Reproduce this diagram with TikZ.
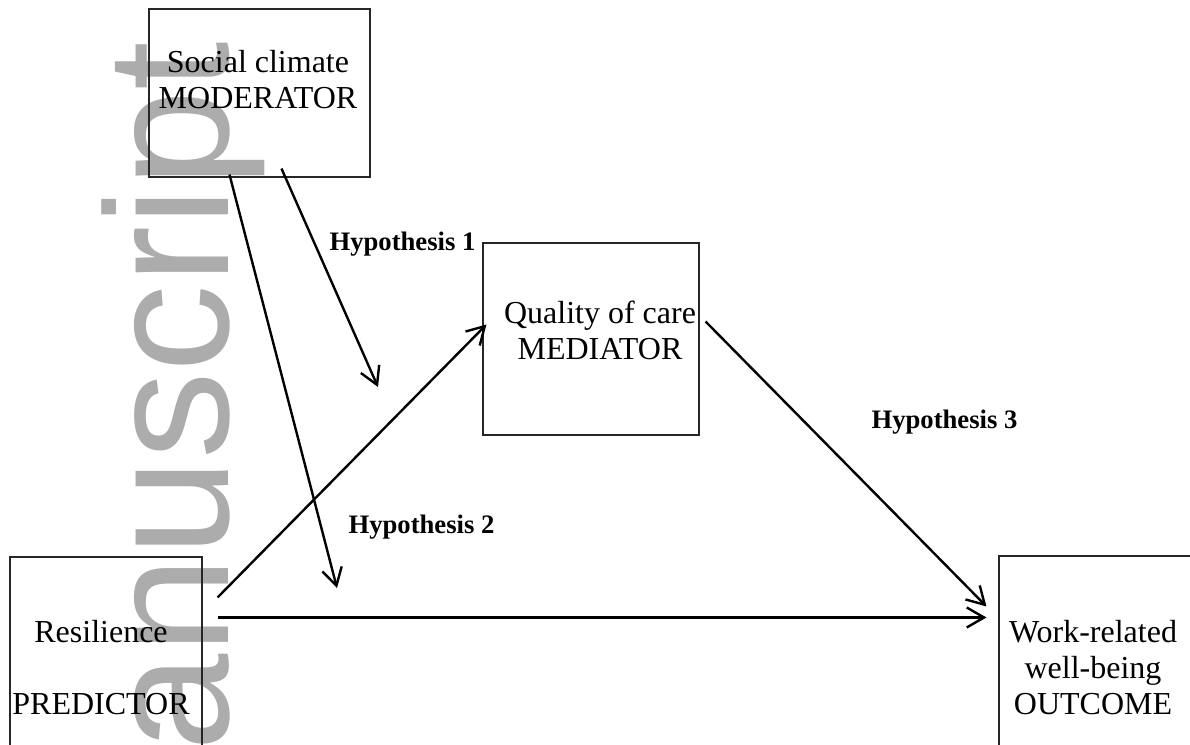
\documentclass[tikz,border=0pt]{standalone}
\usepackage{fontspec}
\setmainfont{Liberation Serif}
\newfontfamily\wmfont{Liberation Sans}
\usetikzlibrary{arrows.meta}

\definecolor{wmgray}{RGB}{172,172,172}

\tikzset{
	box/.style={draw=black!85, line width=0.4pt, inner sep=0pt},
	boxtext/.style={align=center, inner sep=0pt, anchor=north, font=\fontsize{12}{13.5}\selectfont},
	hyp/.style={inner sep=0pt, anchor=base west, font=\fontsize{10}{12}\selectfont\bfseries},
	arr/.style={-{Straight Barb[length=6.5pt,width=7.5pt]}, line width=0.9pt}
}

\begin{document}
\begin{tikzpicture}[x=0.375pt, y=-0.375pt]

	\useasboundingbox (0,0) rectangle (1190,744);
	\clip (0,0) rectangle (1190,744);

	\node [rotate=90, anchor=base west, inner sep=0pt, text=wmgray, font=\wmfont\fontsize{65.6}{70}\selectfont] (mark) at (228,752) {anuscript};

	\node [box, minimum width=82.875pt, minimum height=63pt] (modbox) at (259.5,93) {};
	\node [box, minimum width=81pt, minimum height=72pt] (medbox) at (591,339) {};
	\node [box, minimum width=72pt, minimum height=86.25pt] (predbox) at (106,672) {};
	\node [box, minimum width=86.25pt, minimum height=86.25pt] (outbox) at (1114,671) {};

	\node [boxtext] (modtext) at (258,50) {Social climate\\MODERATOR};
	\node [boxtext] (medtext) at (600,300) {Quality of care\\MEDIATOR};
	\node [boxtext] (predtext) at (101,620) {Resilience\\[13.5pt]PREDICTOR};
	\node [boxtext] (outtext) at (1093,620) {Work-related\\well-being\\OUTCOME};

	\node [hyp] (hyp1) at (329,250) {Hypothesis 1};
	\node [hyp] (hyp2) at (348,533) {Hypothesis 2};
	\node [hyp] (hyp3) at (871,428) {Hypothesis 3};

	\coordinate (A) at ([shift={(133,-9)}]modbox.south west);
	\coordinate (B) at (378,387);
	\coordinate (C) at ([shift={(81,-3)}]modbox.south west);
	\coordinate (D) at (337,588);
	\coordinate (E) at ([shift={(15,41)}]predbox.north east);
	\coordinate (F) at ([shift={(4,82)}]medbox.north west);
	\coordinate (G) at ([shift={(15,61)}]predbox.north east);
	\coordinate (H) at ([shift={(-12,62)}]outbox.north west);
	\coordinate (I) at ([shift={(6,79)}]medbox.north east);
	\coordinate (J) at ([shift={(-12,51)}]outbox.north west);

	\foreach \from/\to in {A/B, C/D, E/F, G/H, I/J}
		\draw [arr] (\from) -- (\to);

\end{tikzpicture}
\end{document}
